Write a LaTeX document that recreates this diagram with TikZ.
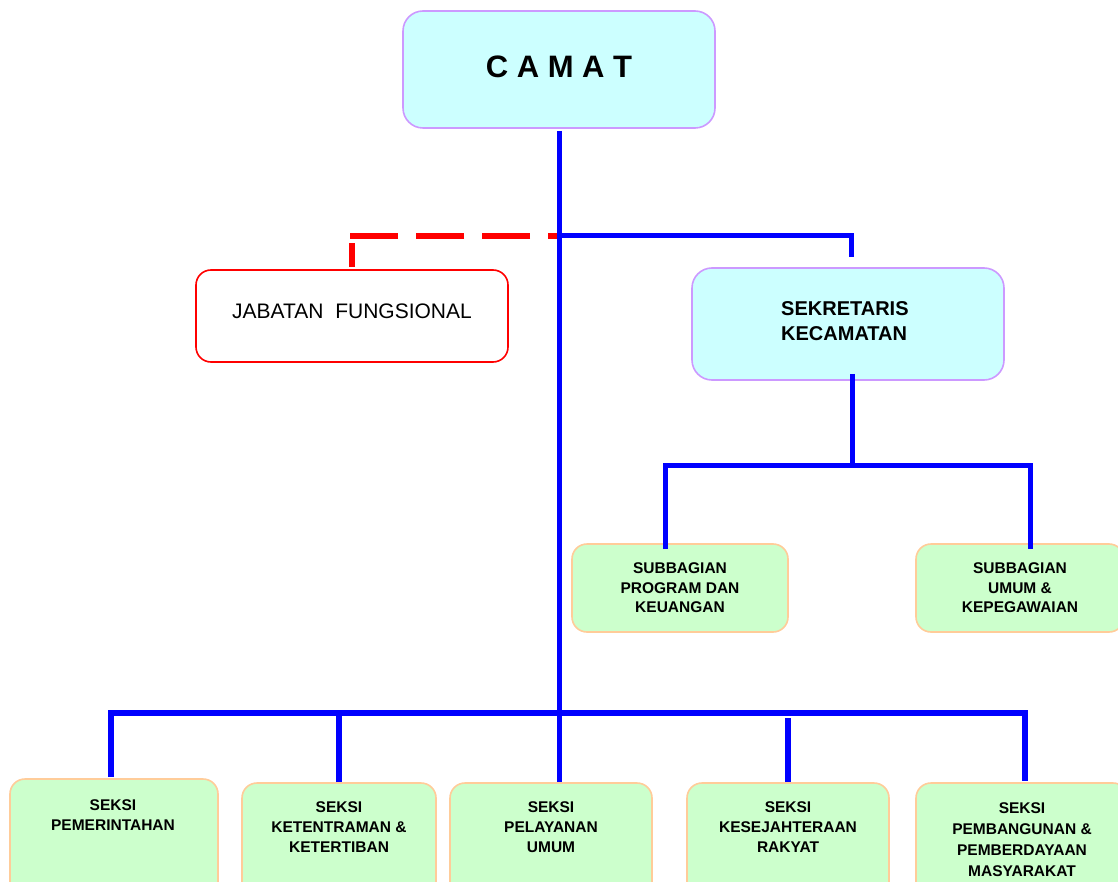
\documentclass[tikz,border=0pt]{standalone}
\usepackage{fontspec}
\setmainfont{Liberation Sans}
\definecolor{cyanfill}{HTML}{CCFFFF}
\definecolor{lavender}{HTML}{CC99FF}
\definecolor{greenfill}{HTML}{CCFFCC}
\definecolor{peach}{HTML}{FFCC99}
\definecolor{lineblue}{HTML}{0000FF}
\definecolor{linered}{HTML}{FF0000}
\begin{document}
\begin{tikzpicture}[x=1pt,y=-1pt,
  box/.style={inner sep=0pt, line width=1.6pt},
  cyanbox/.style={box, fill=cyanfill, draw=lavender, rounded corners=20pt},
  greenbox/.style={box, fill=greenfill, draw=peach, rounded corners=15pt},
  redbox/.style={box, fill=white, draw=linered, rounded corners=15pt},
  smalltxt/.style={font=\bfseries\fontsize{15.5}{20}\selectfont, align=center, inner sep=0pt, anchor=north},
  link/.style={draw=lineblue, line width=5pt, line join=miter},
  buslink/.style={draw=lineblue, line width=5.5pt, line join=miter},
  reddash/.style={draw=linered, line width=6pt, dash pattern=on 48pt off 18pt, dash phase=38pt},
  redline/.style={draw=linered, line width=6pt}]
\useasboundingbox (0,0) rectangle (1118,882);
\clip (0,0) rectangle (1118,882);
\fill[white] (0,0) rectangle (1118,882);

% boxes
\node[cyanbox, minimum width=312pt, minimum height=117pt] (camat) at (559,69.5) {};
\node[font=\bfseries\fontsize{31}{31}\selectfont, inner sep=0pt] (camatT) at (559,67) {C A M A T};

\node[redbox, minimum width=312pt, minimum height=92pt] (jab) at (352,316) {};
\node[font=\fontsize{21}{21}\selectfont, inner sep=0pt] (jabT) at (352,311) {JABATAN\ \ FUNGSIONAL};

\node[cyanbox, minimum width=312pt, minimum height=112pt] (sek) at (848,324) {};
\node[font=\bfseries\fontsize{20}{25}\selectfont, align=left, inner sep=0pt, anchor=north west] (sekT) at (781,301) {SEKRETARIS\\KECAMATAN};

\node[greenbox, minimum width=216pt, minimum height=88pt] (sb1) at (680,588) {};
\node[smalltxt, font=\bfseries\fontsize{15.5}{19.5}\selectfont] (sb1T) at (680,562.5) {SUBBAGIAN\\PROGRAM DAN\\KEUANGAN};
\node[greenbox, minimum width=208pt, minimum height=88pt] (sb2) at (1020,588) {};
\node[smalltxt, font=\bfseries\fontsize{15.5}{19.5}\selectfont] (sb2T) at (1020,562.5) {SUBBAGIAN\\UMUM \&\\KEPEGAWAIAN};

\node[greenbox, minimum width=208pt, minimum height=141pt] (s1) at (114,849.5) {};
\node[smalltxt] (s1T) at (113,799.5) {SEKSI\\PEMERINTAHAN};
\node[greenbox, minimum width=194pt, minimum height=137pt] (s2) at (339,851.5) {};
\node[smalltxt] (s2T) at (339,801.5) {SEKSI\\KETENTRAMAN \&\\KETERTIBAN};
\node[greenbox, minimum width=202pt, minimum height=137pt] (s3) at (551,851.5) {};
\node[smalltxt] (s3T) at (551,801.5) {SEKSI\\PELAYANAN\\UMUM};
\node[greenbox, minimum width=202pt, minimum height=137pt] (s4) at (788,851.5) {};
\node[smalltxt] (s4T) at (788,801.5) {SEKSI\\KESEJAHTERAAN\\RAKYAT};
\node[greenbox, minimum width=212pt, minimum height=137pt] (s5) at (1022,851.5) {};
\node[smalltxt, font=\bfseries\fontsize{15.5}{21}\selectfont] (s5T) at (1022,802.5) {SEKSI\\PEMBANGUNAN \&\\PEMBERDAYAAN\\MASYARAKAT};

% junctions
\coordinate (j1) at (558,236);
\coordinate (sbbus) at (852,465);
\coordinate (bus) at (558,713);

% red dashed link to jabatan fungsional
\draw[reddash] (j1) -- (350,236);
\draw[redline] ([yshift=2pt]jab.north) -- ([yshift=26pt]jab.north);

% camat trunk
\draw[link] ([yshift=-2pt]camat.south) -- (camat.south |- s3.north);
% to sekretaris
\draw[link] (j1) -| ([xshift=3pt,yshift=10pt]sek.north);
% sekretaris to subbagian
\draw[link] ([xshift=4pt,yshift=7pt]sek.south) -- (sbbus);
\draw[link] ([xshift=-15pt,yshift=-6pt]sb1.north) |- (sbbus) -| ([xshift=10pt,yshift=-6pt]sb2.north);
% bottom bus
\draw[buslink] ([xshift=-3pt,yshift=1pt]s1.north) |- (bus) -| ([xshift=3pt,yshift=1pt]s5.north);
\draw[buslink] (s2.north) -- (s2.north |- bus);
\draw[buslink] (s4.north) -- ([yshift=-5pt]s4.north |- bus);
\end{tikzpicture}
\end{document}
